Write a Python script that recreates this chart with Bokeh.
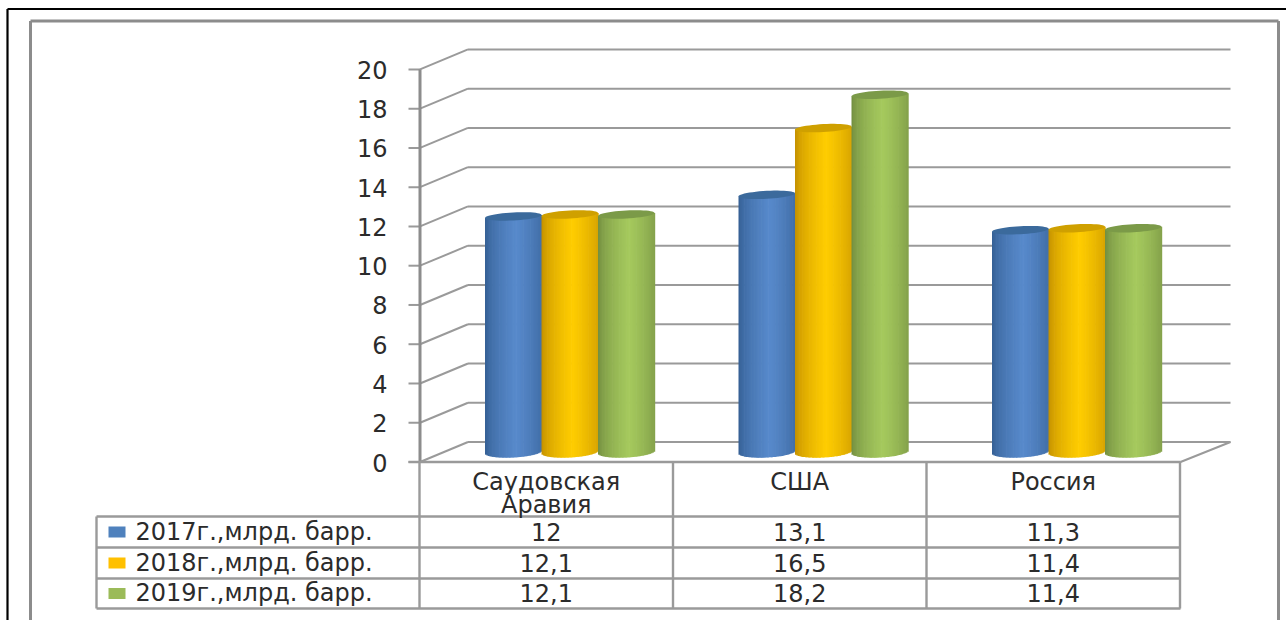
from math import cos, sin, pi, sqrt
from bokeh.plotting import figure
from bokeh.models import Range1d
from bokeh.core.properties import value
from bokeh.embed import file_html
from bokeh.resources import INLINE

categories = [["Саудовская", "Аравия"], ["США"], ["Россия"]]
series_names = ["2017г.,млрд. барр.", "2018г.,млрд. барр.", "2019г.,млрд. барр."]
values_2017 = [12, 13.1, 11.3]
values_2018 = [12.1, 16.5, 11.4]
values_2019 = [12.1, 18.2, 11.4]
y_ticks = [0, 2, 4, 6, 8, 10, 12, 14, 16, 18, 20]

series = [values_2017, values_2018, values_2019]
# edge, bright centre, cap, legend
palette = [((50, 92, 143), (88, 138, 204), "#3B6A9C", "#4F81BD"),
           ((190, 138, 0), (255, 205, 0), "#CFA000", "#FFC000"),
           ((110, 136, 62), (166, 202, 94), "#7B9A48", "#9BBB59")]

W, H = 1286, 620
Y0, PXV = 461.5, 19.63  # page y of value 0, pixels per value unit
GRID = "#9a9a9a"
TXT = "#2b2b2b"
FONT = value("DejaVu Sans")
FS = "24px"

def X(px):
    return px
def YP(py):
    return (Y0 - py) / PXV

p = figure(width=W, height=H, output_backend="svg", toolbar_location=None,
           x_range=Range1d(0, W),
           y_range=Range1d(YP(H), YP(0)),
           min_border=0, border_fill_color="white", outline_line_color=None)
p.xaxis.visible = False
p.yaxis.visible = False
p.grid.visible = False

def lines(xs0, ys0, xs1, ys1, color=GRID, w=2.0):
    p.segment(x0=xs0, y0=ys0, x1=xs1, y1=ys1, line_color=color, line_width=w)

# outer frames
lines([X(7), X(7)], [YP(8.5), YP(8.5)], [X(1286), X(7)], [YP(8.5), YP(620)], "#000000", 2.2)
lines([X(30), X(30), X(1278)], [YP(20.5), YP(20.5), YP(20.5)],
      [X(1278), X(30), X(1278)], [YP(20.5), YP(620), YP(620)], "#8c8c8c", 3)

# walls: depth shift
DX, DY = 48.0, 20.0 / PXV
LEFT, RIGHT = 419.5, 1230.0
lines([X(LEFT + DX)] * len(y_ticks), [t + DY for t in y_ticks],
      [X(RIGHT)] * len(y_ticks), [t + DY for t in y_ticks])
lines([X(LEFT)] * len(y_ticks), y_ticks, [X(LEFT + DX)] * len(y_ticks), [t + DY for t in y_ticks])
lines([X(408)] * len(y_ticks), y_ticks, [X(LEFT)] * len(y_ticks), y_ticks)
lines([X(LEFT)], [0], [X(LEFT)], [y_ticks[-1]], "#8c8c8c", 3)
lines([X(1180)], [0], [X(RIGHT)], [DY])

# tick labels
p.text(x=[X(387)] * len(y_ticks), y=[t - 0.5 / PXV for t in y_ticks], text=[str(t) for t in y_ticks],
       text_font=FONT, text_font_size=FS, text_align="right", text_baseline="middle", text_color=TXT)

# cylinders
CELL_L, CELL_W = 419.0, 253.5
BAR_W, CAP_RY, BASE_RY = 56.5, 4.0, 5.5
BASE = 10.0 / PXV
for s, vals in enumerate(series):
    edge, mid, cap, _ = palette[s]
    left, right, bottom, top, colors = [], [], [], [], []
    cap_xs, cap_ys = [], []
    for i, v in enumerate(vals):
        c0 = CELL_L + CELL_W * (i + 0.5) + 23.5 + (s - 1) * BAR_W
        top_v = v + BASE
        base_v = BASE
        n = 40
        for k in range(n):
            t = -1 + 2 * (k + 0.5) / n
            off = sqrt(max(0, 1 - t * t))
            f = max(0.0, 1 - abs(t - 0.1) / 1.1) ** 0.55
            col = tuple(int(edge[j] + (mid[j] - edge[j]) * f) for j in range(3))
            colors.append("#%02x%02x%02x" % col)
            x0 = c0 + t * BAR_W / 2 - BAR_W / n / 2
            left.append(X(x0))
            right.append(X(x0 + BAR_W / n + 0.7))
            bottom.append(base_v - BASE_RY * off / PXV + 1.5 * t / PXV)
            top.append(top_v + 1.5 * t / PXV)
        pts = [2 * pi * a / 48 for a in range(48)]
        cap_xs.append([X(c0 + BAR_W / 2 * cos(a)) for a in pts])
        cap_ys.append([top_v + (CAP_RY * sin(a) + 1.5 * cos(a)) / PXV for a in pts])
    p.quad(left=left, right=right, bottom=bottom, top=top, fill_color=colors, line_color=None)
    p.patches(cap_xs, cap_ys, fill_color=cap, line_color=None)

# data table
rows_y = [516.0, 547.0, 578.0, 608.0]
col_x = [CELL_L + CELL_W * i for i in range(len(categories) + 1)]
lines([X(c) for c in col_x], [YP(461)] * len(col_x), [X(c) for c in col_x], [YP(608)] * len(col_x), w=2.4)
lines([X(96)], [YP(516)], [X(96)], [YP(608)], w=2.4)
lines([X(96)] * len(rows_y), [YP(r) for r in rows_y], [X(1180)] * len(rows_y), [YP(r) for r in rows_y], w=2.4)
lines([X(408)], [0], [X(1180)], [0], w=2.4)

cx, cy, ct = [], [], []
for i, cat in enumerate(categories):
    for j, word in enumerate(cat):
        cx.append(X(CELL_L + CELL_W * (i + 0.5)))
        cy.append(YP(481 + 23 * j))
        ct.append(word)
for s, vals in enumerate(series):
    for i, v in enumerate(vals):
        cx.append(X(CELL_L + CELL_W * (i + 0.5)))
        cy.append(YP((rows_y[s] + rows_y[s + 1]) / 2 - 0.5))
        ct.append(str(v).replace(".", ","))
p.text(x=cx, y=cy, text=ct, text_font=FONT, text_font_size=FS, text_align="center",
       text_baseline="middle", text_color=TXT)

ly = [(rows_y[s] + rows_y[s + 1]) / 2 for s in range(3)]
p.quad(left=[X(108)] * 3, right=[X(125)] * 3, top=[YP(y - 5.5) for y in ly], bottom=[YP(y + 5.5) for y in ly],
       fill_color=[c[3] for c in palette], line_color=None)
p.text(x=[X(135)] * 3, y=[YP(y - 0.5) for y in ly], text=series_names, text_font=FONT, text_font_size=FS,
       text_align="left", text_baseline="middle", text_color=TXT)

open("out.html", "w").write(file_html(p, INLINE))
